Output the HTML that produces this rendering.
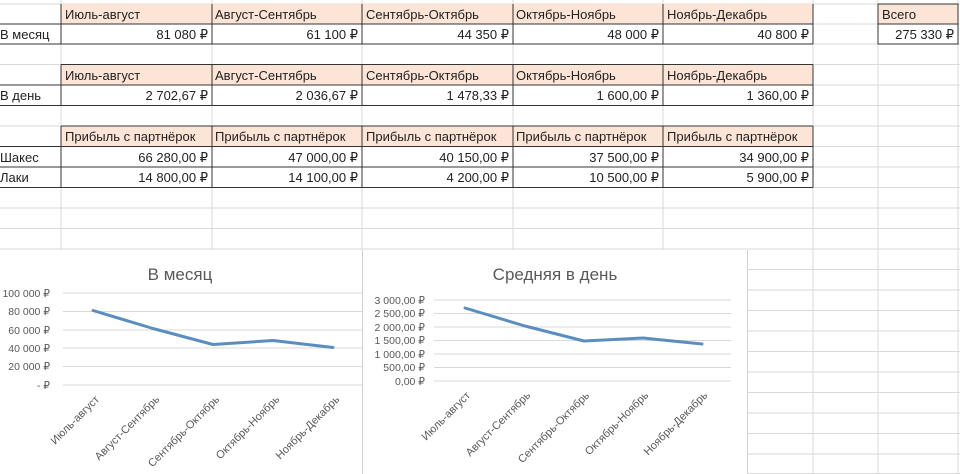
<!DOCTYPE html>
<html><head><meta charset="utf-8"><style>
html,body{margin:0;padding:0;background:#fff;}
svg{display:block;font-family:"Liberation Sans","DejaVu Sans",sans-serif;}
</style></head><body>
<svg width="960" height="474" viewBox="0 0 960 474" xmlns="http://www.w3.org/2000/svg">
<rect width="960" height="474" fill="#fff"/>
<g stroke="#dadada" stroke-width="1">
<line x1="0" y1="4" x2="960" y2="4"/><line x1="0" y1="24" x2="960" y2="24"/><line x1="0" y1="44" x2="960" y2="44"/>
<line x1="0" y1="64.5" x2="960" y2="64.5"/><line x1="0" y1="85" x2="960" y2="85"/><line x1="0" y1="105.5" x2="960" y2="105.5"/>
<line x1="0" y1="126" x2="960" y2="126"/><line x1="0" y1="146.5" x2="960" y2="146.5"/><line x1="0" y1="167" x2="960" y2="167"/>
<line x1="0" y1="187.5" x2="960" y2="187.5"/><line x1="0" y1="208" x2="960" y2="208"/><line x1="0" y1="228.5" x2="960" y2="228.5"/>
<line x1="0" y1="249" x2="960" y2="249"/><line x1="0" y1="269.5" x2="960" y2="269.5"/><line x1="0" y1="290" x2="960" y2="290"/>
<line x1="0" y1="310.5" x2="960" y2="310.5"/><line x1="0" y1="331" x2="960" y2="331"/><line x1="0" y1="351.5" x2="960" y2="351.5"/>
<line x1="0" y1="372" x2="960" y2="372"/><line x1="0" y1="392.5" x2="960" y2="392.5"/><line x1="0" y1="413" x2="960" y2="413"/>
<line x1="0" y1="433.5" x2="960" y2="433.5"/><line x1="0" y1="454" x2="960" y2="454"/><line x1="0" y1="473.5" x2="960" y2="473.5"/>
<line x1="61" y1="0" x2="61" y2="474"/><line x1="212" y1="0" x2="212" y2="474"/><line x1="362" y1="0" x2="362" y2="474"/>
<line x1="513" y1="0" x2="513" y2="474"/><line x1="663" y1="0" x2="663" y2="474"/><line x1="813" y1="0" x2="813" y2="474"/>
<line x1="878" y1="0" x2="878" y2="474"/><line x1="958" y1="0" x2="958" y2="474"/>
</g>
<g fill="#fce4d6">
<rect x="61" y="4" width="752" height="20"/><rect x="878" y="4" width="80" height="20"/>
<rect x="61" y="64.5" width="752" height="20.5"/>
<rect x="61" y="126" width="752" height="20.5"/>
</g>
<g stroke="#333" stroke-width="1" fill="none">
<line x1="0" y1="24" x2="813" y2="24"/><line x1="0" y1="44" x2="813" y2="44"/>
<line x1="61" y1="4" x2="61" y2="44"/><line x1="212" y1="4" x2="212" y2="44"/><line x1="362" y1="4" x2="362" y2="44"/><line x1="513" y1="4" x2="513" y2="44"/><line x1="663" y1="4" x2="663" y2="44"/><line x1="813" y1="4" x2="813" y2="44"/>
<rect x="878" y="4" width="80" height="40"/><line x1="878" y1="24" x2="958" y2="24"/>
<line x1="61" y1="64.5" x2="813" y2="64.5"/><line x1="0" y1="85" x2="813" y2="85"/><line x1="0" y1="105.5" x2="813" y2="105.5"/>
<line x1="61" y1="64.5" x2="61" y2="105.5"/><line x1="212" y1="64.5" x2="212" y2="105.5"/><line x1="362" y1="64.5" x2="362" y2="105.5"/><line x1="513" y1="64.5" x2="513" y2="105.5"/><line x1="663" y1="64.5" x2="663" y2="105.5"/><line x1="813" y1="64.5" x2="813" y2="105.5"/>
<line x1="61" y1="126" x2="813" y2="126"/><line x1="0" y1="146.5" x2="813" y2="146.5"/><line x1="0" y1="167" x2="813" y2="167"/><line x1="0" y1="187.5" x2="813" y2="187.5"/>
<line x1="61" y1="126" x2="61" y2="187.5"/><line x1="212" y1="126" x2="212" y2="187.5"/><line x1="362" y1="126" x2="362" y2="187.5"/><line x1="513" y1="126" x2="513" y2="187.5"/><line x1="663" y1="126" x2="663" y2="187.5"/><line x1="813" y1="126" x2="813" y2="187.5"/>
</g>
<g font-size="13" fill="#222">
<text x="65" y="19">Июль-август</text><text x="215" y="19">Август-Сентябрь</text><text x="366" y="19">Сентябрь-Октябрь</text><text x="516" y="19">Октябрь-Ноябрь</text><text x="667" y="19">Ноябрь-Декабрь</text><text x="882" y="19">Всего</text>
<text x="0" y="39">В месяц</text>
<g text-anchor="end"><text x="208" y="39">81 080 ₽</text><text x="358" y="39">61 100 ₽</text><text x="509" y="39">44 350 ₽</text><text x="659" y="39">48 000 ₽</text><text x="809" y="39">40 800 ₽</text><text x="954" y="39">275 330 ₽</text></g>
<text x="65" y="80">Июль-август</text><text x="215" y="80">Август-Сентябрь</text><text x="366" y="80">Сентябрь-Октябрь</text><text x="516" y="80">Октябрь-Ноябрь</text><text x="667" y="80">Ноябрь-Декабрь</text>
<text x="0" y="100">В день</text>
<g text-anchor="end"><text x="208" y="100">2 702,67 ₽</text><text x="358" y="100">2 036,67 ₽</text><text x="509" y="100">1 478,33 ₽</text><text x="659" y="100">1 600,00 ₽</text><text x="809" y="100">1 360,00 ₽</text></g>
<text x="65" y="141">Прибыль с партнёрок</text><text x="215" y="141">Прибыль с партнёрок</text><text x="366" y="141">Прибыль с партнёрок</text><text x="516" y="141">Прибыль с партнёрок</text><text x="667" y="141">Прибыль с партнёрок</text>
<text x="0" y="162">Шакес</text><text x="0" y="182">Лаки</text>
<g text-anchor="end"><text x="208" y="162">66 280,00 ₽</text><text x="358" y="162">47 000,00 ₽</text><text x="509" y="162">40 150,00 ₽</text><text x="659" y="162">37 500,00 ₽</text><text x="809" y="162">34 900,00 ₽</text>
<text x="208" y="182">14 800,00 ₽</text><text x="358" y="182">14 100,00 ₽</text><text x="509" y="182">4 200,00 ₽</text><text x="659" y="182">10 500,00 ₽</text><text x="809" y="182">5 900,00 ₽</text></g>
</g>
<rect x="0" y="250" width="362" height="224" fill="#fff"/>
<line x1="362.5" y1="250" x2="362.5" y2="474" stroke="#d0d0d0"/>
<text x="180" y="280" font-size="17" fill="#595959" text-anchor="middle">В месяц</text>
<g stroke="#d9d9d9"><line x1="63" y1="293" x2="362" y2="293"/><line x1="63" y1="311.5" x2="362" y2="311.5"/><line x1="63" y1="330" x2="362" y2="330"/><line x1="63" y1="348" x2="362" y2="348"/><line x1="63" y1="366.5" x2="362" y2="366.5"/><line x1="63" y1="385" x2="362" y2="385"/></g>
<g font-size="10.5" fill="#595959" text-anchor="end"><text x="50" y="297">100 000 ₽</text><text x="50" y="315">80 000 ₽</text><text x="50" y="334">60 000 ₽</text><text x="50" y="352">40 000 ₽</text><text x="50" y="370">20 000 ₽</text><text x="50" y="389">- ₽</text></g>
<polyline points="93,310.5 153,328.5 213,344.5 273,340.5 333,347.5" fill="none" stroke="#5b8ec0" stroke-width="3" stroke-linejoin="round" stroke-linecap="round"/>
<g font-size="11" fill="#595959" text-anchor="end">
<text transform="translate(100,400) rotate(-45)">Июль-август</text>
<text transform="translate(160,400) rotate(-45)">Август-Сентябрь</text>
<text transform="translate(220,400) rotate(-45)">Сентябрь-Октябрь</text>
<text transform="translate(280,400) rotate(-45)">Октябрь-Ноябрь</text>
<text transform="translate(340,400) rotate(-45)">Ноябрь-Декабрь</text>
</g>
<rect x="363" y="250" width="385" height="224" fill="#fff"/>
<line x1="747.5" y1="250" x2="747.5" y2="474" stroke="#d0d0d0"/>
<text x="555" y="280" font-size="17" fill="#595959" text-anchor="middle">Средняя в день</text>
<g stroke="#d9d9d9"><line x1="434" y1="300" x2="731" y2="300"/><line x1="434" y1="313.5" x2="731" y2="313.5"/><line x1="434" y1="327" x2="731" y2="327"/><line x1="434" y1="340.5" x2="731" y2="340.5"/><line x1="434" y1="354" x2="731" y2="354"/><line x1="434" y1="367.5" x2="731" y2="367.5"/><line x1="434" y1="381" x2="731" y2="381"/></g>
<g font-size="10.5" fill="#595959" text-anchor="end"><text x="425" y="304">3 000,00 ₽</text><text x="425" y="317">2 500,00 ₽</text><text x="425" y="331">2 000,00 ₽</text><text x="425" y="344">1 500,00 ₽</text><text x="425" y="358">1 000,00 ₽</text><text x="425" y="371">500,00 ₽</text><text x="425" y="385">0,00 ₽</text></g>
<polyline points="465,308 525,326 584,341 643,338 702,344" fill="none" stroke="#5b8ec0" stroke-width="3" stroke-linejoin="round" stroke-linecap="round"/>
<g font-size="11" fill="#595959" text-anchor="end">
<text transform="translate(471,396) rotate(-45)">Июль-август</text>
<text transform="translate(531,396) rotate(-45)">Август-Сентябрь</text>
<text transform="translate(590,396) rotate(-45)">Сентябрь-Октябрь</text>
<text transform="translate(649,396) rotate(-45)">Октябрь-Ноябрь</text>
<text transform="translate(708,396) rotate(-45)">Ноябрь-Декабрь</text>
</g>
</svg>
</body></html>
